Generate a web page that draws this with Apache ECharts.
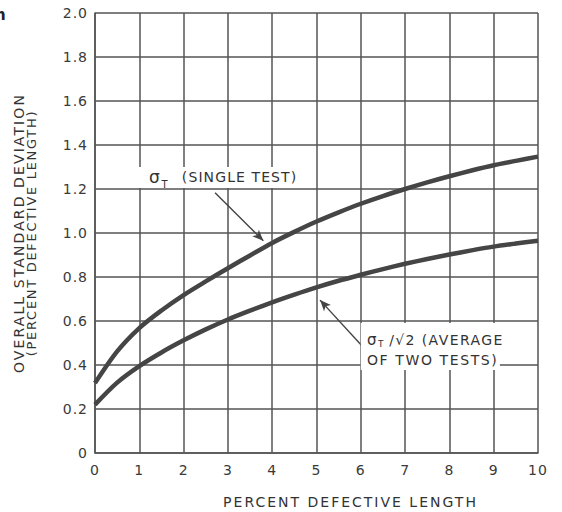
<!DOCTYPE html>
<html>
<head>
<meta charset="utf-8">
<script src="https://cdn.jsdelivr.net/npm/echarts@6/dist/echarts.min.js"></script>
<style>html,body{margin:0;padding:0;background:#fff;}#c{width:562px;height:512px;}</style>
</head>
<body>
<div id="c"></div>
<script>
// Data
const xValues = [0, 0.5, 1, 1.5, 2, 2.5, 3, 3.5, 4, 4.5, 5, 5.5, 6, 6.5, 7, 7.5, 8, 8.5, 9, 9.5, 10];
const singleTest = [0.318, 0.462, 0.568, 0.648, 0.718, 0.78, 0.84, 0.898, 0.955, 1.005, 1.052, 1.094, 1.133, 1.168, 1.20, 1.23, 1.258, 1.284, 1.308, 1.328, 1.347];
const averageTwo = [0.22, 0.32, 0.395, 0.457, 0.512, 0.562, 0.607, 0.647, 0.685, 0.72, 0.753, 0.783, 0.81, 0.836, 0.86, 0.882, 0.902, 0.921, 0.938, 0.952, 0.965];
const xTicks = [0, 1, 2, 3, 4, 5, 6, 7, 8, 9, 10];
const yTicks = [0, 0.2, 0.4, 0.6, 0.8, 1.0, 1.2, 1.4, 1.6, 1.8, 2.0];
const xTitle = 'PERCENT DEFECTIVE LENGTH';
const yTitle1 = 'OVERALL STANDARD DEVIATION';
const yTitle2 = '(PERCENT DEFECTIVE LENGTH)';
const upperLabel = '(SINGLE TEST)';
const lowerLabel1 = '/√2 (AVERAGE';
const lowerLabel2 = 'OF TWO TESTS)';
// annotation anchors (data coords)
const arrowUpper = [[2.71, 1.183], [3.80, 0.965]];
const arrowLower = [[6.05, 0.482], [5.08, 0.695]];

const FONT = 'DejaVu Sans';
const INK = '#454545';
const GRID = '#555';

const chart = echarts.init(document.getElementById('c'), null, {renderer: 'svg'});

function pairs(xs, ys) { return xs.map((x, i) => [x, ys[i]]); }

const option = {
  backgroundColor: '#fff',
  animation: false,
  grid: {left: 95, right: 24, top: 13, bottom: 59, show: false, containLabel: false, outerBoundsMode: 'none'},
  xAxis: {
    type: 'value', min: 0, max: 10, interval: 1,
    name: xTitle, nameLocation: 'middle', nameGap: 42,
    nameTextStyle: {fontFamily: FONT, fontSize: 14, color: '#333', padding: [0, 0, 0, 68]},
    axisLine: {show: true, lineStyle: {color: GRID, width: 1.5}},
    axisTick: {show: false},
    axisLabel: {fontFamily: FONT, fontSize: 14, color: '#3a3a3a', margin: 10},
    splitLine: {show: true, lineStyle: {color: GRID, width: 1.5}}
  },
  yAxis: {
    type: 'value', min: 0, max: 2, interval: 0.2,
    name: '{a|' + yTitle1 + '}\n{b|' + yTitle2 + '}', nameLocation: 'middle', nameGap: 58, nameRotate: 90,
    nameTextStyle: {
      fontFamily: FONT, color: '#333', lineHeight: 12,
      rich: {
        a: {fontFamily: FONT, fontSize: 14, color: '#333', lineHeight: 12},
        b: {fontFamily: FONT, fontSize: 13, color: '#333', lineHeight: 12}
      }
    },
    axisLine: {show: true, lineStyle: {color: GRID, width: 1.5}},
    axisTick: {show: false},
    axisLabel: {fontFamily: FONT, fontSize: 14, color: '#3a3a3a', margin: 7,
      formatter: v => (Math.abs(v) < 1e-9 ? '0' : v.toFixed(1))},
    splitLine: {show: true, lineStyle: {color: GRID, width: 1.5}}
  },
  series: [
    {
      type: 'line', data: pairs(xValues, singleTest), smooth: 0.3, showSymbol: false,
      lineStyle: {color: INK, width: 4.5}, z: 5,
      markLine: {
        silent: true, symbol: ['none', 'arrow'], symbolSize: [7, 11],
        lineStyle: {color: '#444', width: 1.4, type: 'solid'}, label: {show: false},
        data: [[{coord: arrowUpper[0]}, {coord: arrowUpper[1]}]]
      }
    },
    {
      type: 'line', data: pairs(xValues, averageTwo), smooth: 0.3, showSymbol: false,
      lineStyle: {color: INK, width: 4.5}, z: 5,
      markLine: {
        silent: true, symbol: ['none', 'arrow'], symbolSize: [7, 11],
        lineStyle: {color: '#444', width: 1.4, type: 'solid'}, label: {show: false},
        data: [[{coord: arrowLower[0]}, {coord: arrowLower[1]}]]
      }
    }
  ]
};
chart.setOption(option);

function px(x, y) { return chart.convertToPixel({gridIndex: 0}, [x, y]); }

const uBoxA = px(0.95, 1.30), uBoxB = px(4.92, 1.205);
const lBoxA = px(6.0, 0.591), lBoxB = px(9.14, 0.377);
const sig1 = px(1.22, 1.255), sub1 = px(1.50, 1.222), txt1 = px(1.96, 1.255);
const sig2 = px(6.14, 0.514), sub2 = px(6.39, 0.494), txt2 = px(6.64, 0.514), txt3 = px(6.14, 0.425);

const T = (pos, text, size, extra) => Object.assign({
  type: 'text', x: pos[0], y: pos[1], z: 20,
  style: Object.assign({text: text, fontFamily: FONT, fontSize: size, fill: '#333', verticalAlign: 'middle', align: 'left'}, extra || {})
});

chart.setOption({
  graphic: [
    {type: 'rect', z: 15, shape: {x: uBoxA[0], y: uBoxA[1], width: uBoxB[0] - uBoxA[0], height: uBoxB[1] - uBoxA[1]}, style: {fill: '#fff'}},
    {type: 'rect', z: 15, shape: {x: lBoxA[0], y: lBoxA[1], width: lBoxB[0] - lBoxA[0], height: lBoxB[1] - lBoxA[1]}, style: {fill: '#fff'}},
    T(sig1, 'σ', 17),
    T(sub1, 'T', 10),
    T(txt1, upperLabel, 14),
    T(sig2, 'σ', 15),
    T(sub2, 'T', 9),
    T(txt2, lowerLabel1, 14),
    T(txt3, lowerLabel2, 14),
    {type: 'text', left: -5, top: 7, z: 20, style: {text: 'h', fontFamily: FONT, fontSize: 15, fontWeight: 'bold', fill: '#222'}}
  ]
});

// letter spacing to match the hand-lettered originals
const spacing = {};
spacing[xTitle] = 2.0;
spacing[yTitle1] = 2.1;
spacing[yTitle2] = 1.7;
spacing[upperLabel] = 1.1;
spacing[lowerLabel1] = 1.4;
spacing[lowerLabel2] = 1.6;
function applySpacing() {
  document.querySelectorAll('#c svg text').forEach(el => {
    const t = (el.textContent || '').trim();
    let s = null;
    if (spacing[t] != null) s = spacing[t];
    else if (/^[0-9.]+$/.test(t)) s = 1;
    if (s != null) el.setAttribute('letter-spacing', s + 'px');
  });
}
chart.on('finished', applySpacing);
applySpacing();
setTimeout(applySpacing, 50);
</script>
</body>
</html>
